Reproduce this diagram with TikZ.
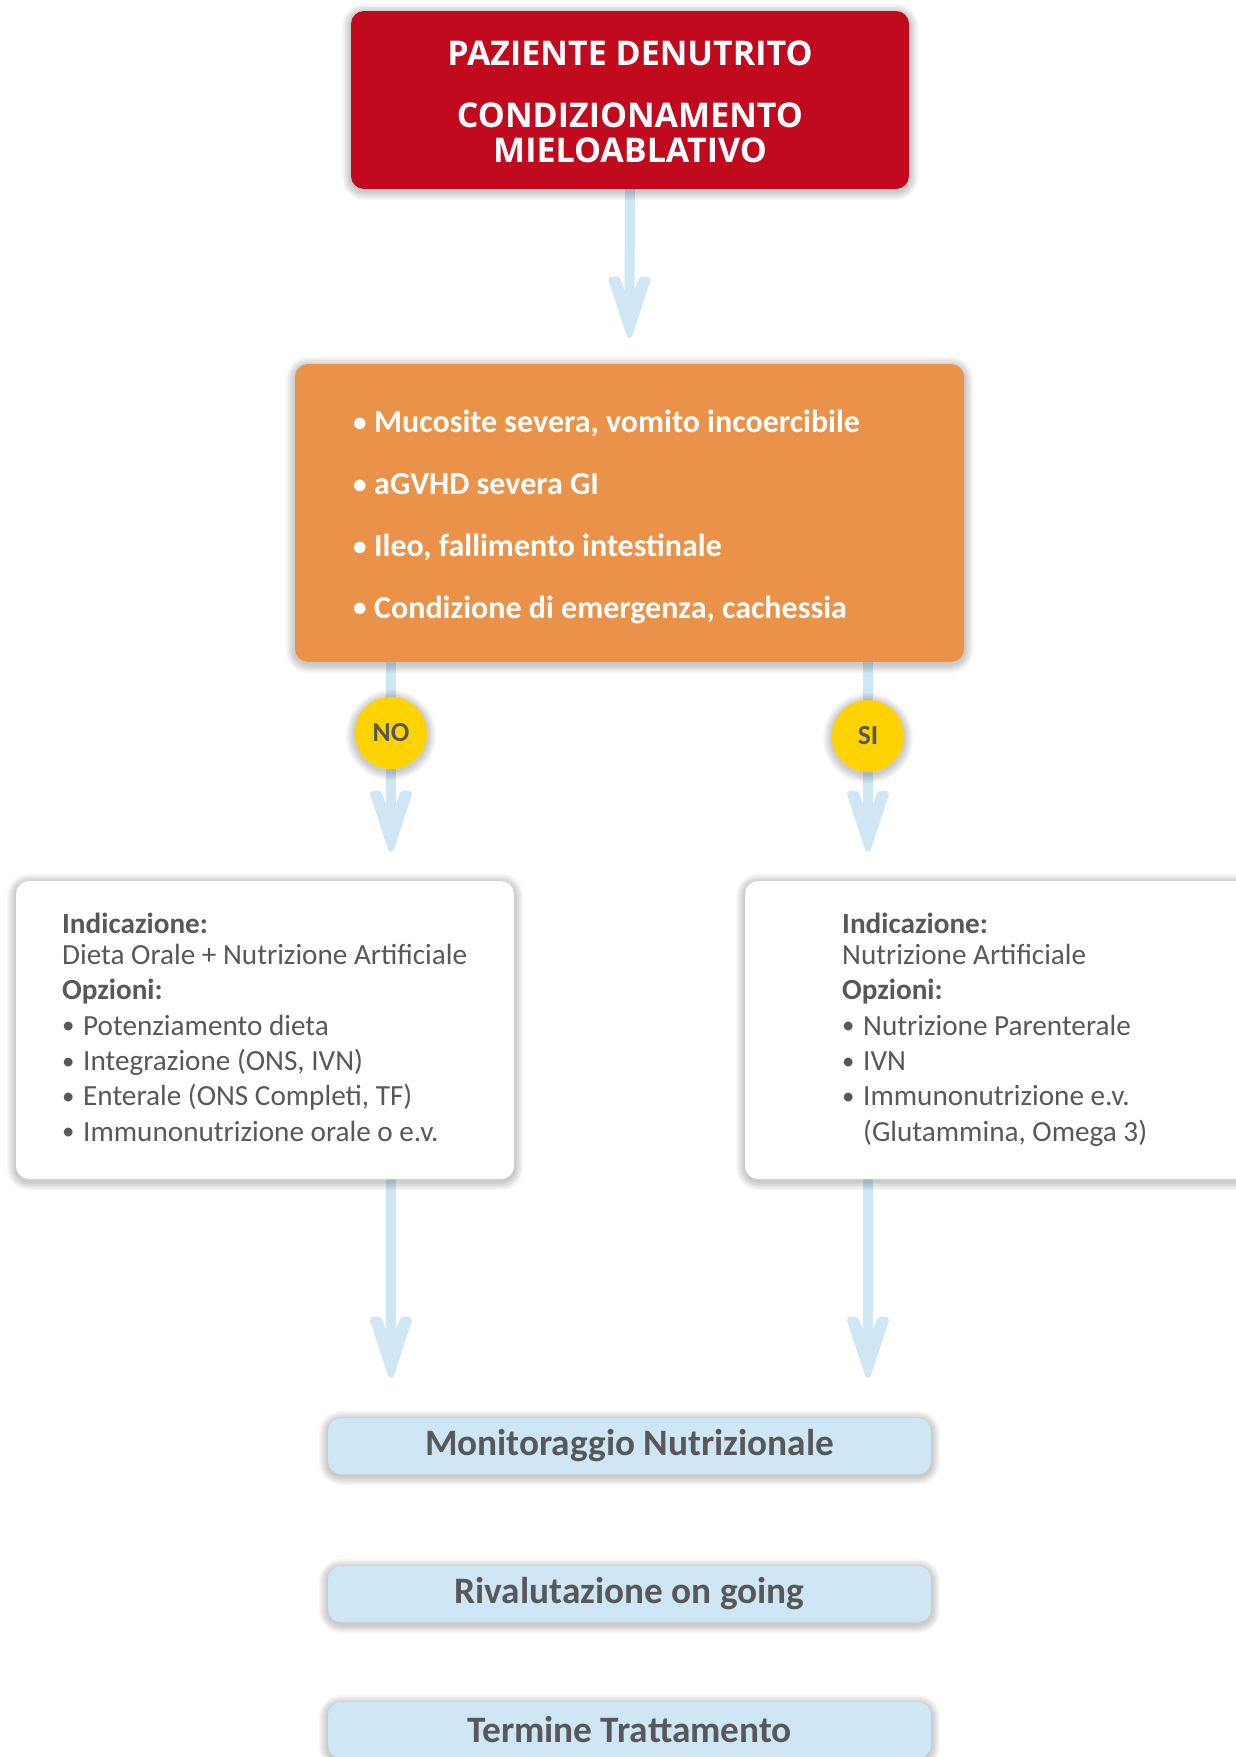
\documentclass[tikz,border=0pt]{standalone}
\usepackage{fontspec}
\setmainfont{Carlito}
\newfontfamily\headfont{Open Sans}
\usetikzlibrary{backgrounds,calc}

\definecolor{hdred}{HTML}{C20A1E}
\definecolor{critorange}{HTML}{EB924A}
\definecolor{flowblue}{HTML}{CFE6F5}
\definecolor{txtgray}{HTML}{58585A}
\definecolor{yesnoyellow}{HTML}{FFD300}

% small bullet set in a fixed-width box so the item texts line up
\newcommand\bul{\makebox[21pt][l]{\raisebox{0.04em}{\scalebox{0.85}{•}}}}

\tikzset{
  % soft shadow: stacked faint strokes of the outline, the fill covers the inner half
  shadowring/.style={preaction={draw=black, draw opacity=0.035, line width=#1,
      line join=round, transform canvas={yshift=-2pt}}},
  softshadow/.style={shadowring=18pt, shadowring=15pt, shadowring=12pt,
      shadowring=9pt, shadowring=6pt, shadowring=3pt},
  panel/.style={rounded corners=13pt, softshadow, inner sep=0pt},
  stem/.style={draw=flowblue, line width=10pt},
  vhead/.pic={
    \filldraw[flowblue, line width=6pt, line join=round, line cap=round]
      (0,0) -- (-18,-55) -- (-12,-55) -- (0,-24) -- (12,-55) -- (18,-55) -- cycle;
  },
  listtext/.style={anchor=base west, inner sep=0pt, align=left, text=txtgray,
      font=\fontsize{29.2}{35.3}\selectfont},
  decision/.style={circle, fill=yesnoyellow, minimum size=72pt, inner sep=0pt,
      softshadow, text=txtgray, font=\bfseries\fontsize{27.5}{27.5}\selectfont},
  stepbar/.style={panel, fill=flowblue, minimum width=603pt, minimum height=56pt,
      text=txtgray, font=\bfseries\fontsize{37.3}{37.3}\selectfont},
}

\begin{document}
\begin{tikzpicture}[x=1pt, y=-1pt]
\useasboundingbox (0,0) rectangle (1236,1757);

% starting condition (the base anchor sits on the last line)
\node[panel, fill=hdred, minimum width=558pt, minimum height=178pt] (head) at (630,100) {};
\node[anchor=base, inner sep=0pt, align=center, text=white,
      font=\headfont\bfseries\fontsize{34}{35}\selectfont] (headtext) at (630,162)
  {PAZIENTE DENUTRITO\\[27pt]CONDIZIONAMENTO\\MIELOABLATIVO};

% critical conditions
\node[panel, fill=critorange, minimum width=669pt, minimum height=298pt] (crit) at (629.5,513) {};
\node[anchor=base west, inner sep=0pt, align=left, text=white,
      font=\bfseries\fontsize{32}{61.7}\selectfont] (critlist) at (353,618)
  {\bul Mucosite severa, vomito incoercibile\\
   \bul aGVHD severa GI\\
   \bul Ileo, fallimento intestinale\\
   \bul Condizione di emergenza, cachessia};

% decisions
\node[decision] (no) at (391,733) {NO};
\node[decision] (si) at (868,736) {SI};

% indication panels
\node[panel, fill=white, minimum width=498pt, minimum height=298pt] (lbox) at (265,1030) {};
\node[listtext] (ltext) at (62,1141)
  {\textbf{Indicazione:}\\[-4pt]
   Dieta Orale + Nutrizione Artificiale\\
   \textbf{Opzioni:}\\
   \bul Potenziamento dieta\\
   \bul Integrazione (ONS, IVN)\\
   \bul Enterale (ONS Completi, TF)\\
   \bul Immunonutrizione orale o e.v.};

\node[panel, fill=white, minimum width=505pt, minimum height=298pt] (rbox) at (997.5,1030) {};
\node[listtext] (rtext) at (842,1141)
  {\textbf{Indicazione:}\\[-4pt]
   Nutrizione Artificiale\\
   \textbf{Opzioni:}\\
   \bul Nutrizione Parenterale\\
   \bul IVN\\
   \bul Immunonutrizione e.v.\\
   \hspace*{21pt}(Glutammina, Omega 3)};

% follow-up steps
\node[stepbar] (mon) at (629.5,1446) {Monitoraggio Nutrizionale};
\node[stepbar] (riv) at (629.5,1594) {Rivalutazione on going};
\node[stepbar] (term) at (629.5,1730) {Termine Trattamento};

% connectors behind the boxes: stem plus open V head, stopping short of the target
\begin{scope}[on background layer]
  \fill[white] (0,0) rectangle (1236,1757);
  \coordinate (t0) at ($(crit.north)+(0,-29)$);
  \coordinate (t1) at ($(no |- lbox.north)+(0,-32)$);
  \coordinate (t2) at ($(si |- rbox.north)+(0,-32)$);
  \coordinate (t3) at ($(no |- mon.north)+(0,-43)$);
  \coordinate (t4) at ($(si |- mon.north)+(0,-43)$);
  \draw[stem] (head.south) -- ($(t0)+(0,-28)$);
  \draw[stem] (no |- crit.south) -- ($(t1)+(0,-28)$);
  \draw[stem] (si |- crit.south) -- ($(t2)+(0,-28)$);
  \draw[stem] (no |- lbox.south) -- ($(t3)+(0,-28)$);
  \draw[stem] (si |- rbox.south) -- ($(t4)+(0,-28)$);
  \foreach \t in {t0,t1,t2,t3,t4} \pic at (\t) {vhead};
\end{scope}
\end{tikzpicture}
\end{document}
